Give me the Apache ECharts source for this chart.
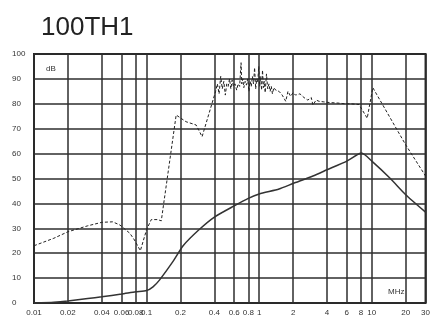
<!DOCTYPE html>
<html>
<head>
<meta charset="utf-8">
<script src="https://cdn.jsdelivr.net/npm/echarts@6/dist/echarts.min.js"></script>
<style>
  html, body { margin: 0; padding: 0; background: #fff; }
  #chart { width: 433px; height: 318px; }
</style>
</head>
<body>
<div id="chart"></div>
<script>
// frequency ticks (MHz) shown on the log axis
const freqTicks = [0.01, 0.02, 0.04, 0.06, 0.08, 0.1, 0.2, 0.4, 0.6, 0.8, 1, 2, 4, 6, 8, 10, 20, 30]

// dashed curve
const dashFreq = [
  0.01, 0.015, 0.02, 0.03, 0.04, 0.05, 0.058, 0.071, 0.078, 0.088, 0.1, 0.11, 0.125, 0.135,
  0.183, 0.224, 0.275, 0.311, 0.41,
  0.425, 0.44, 0.455, 0.47, 0.485, 0.5, 0.515, 0.53, 0.545, 0.56, 0.575, 0.59, 0.61, 0.63,
  0.65, 0.67, 0.69, 0.70, 0.715, 0.73, 0.75, 0.77, 0.79, 0.81, 0.83, 0.85, 0.87, 0.89, 0.91,
  0.93, 0.95, 0.97, 0.99, 1.01, 1.03, 1.05, 1.07, 1.09, 1.11, 1.13, 1.16, 1.19, 1.22, 1.25,
  1.28, 1.31, 1.35, 1.4, 1.45, 1.5, 1.6, 1.72, 1.8, 1.9, 2.0, 2.1, 2.3, 2.5, 2.7, 2.9, 3.0,
  3.2, 3.4, 3.7, 4.2, 5.0, 5.8, 6.5, 7.7, 9.1, 10.2, 20, 30
]
const dashDb = [
  23, 26, 28.6, 31, 32.4, 32.6, 31.3, 28, 25.3, 21, 29.5, 33.5, 33.5, 33,
  75.5, 72.8, 71.5, 66.8, 85,
  88, 84, 91, 86, 89, 83.5, 88, 87, 90, 86, 89.5, 87, 88, 85.5,
  88, 87, 96.5, 88, 90, 86.5, 89, 87.5, 90, 85, 89, 87, 91, 88, 94.5,
  86, 90, 88.5, 95, 87, 91, 85.5, 93.5, 86.5, 89, 84.5, 92, 86, 88, 85,
  87, 84, 86.5, 85.5, 86, 85, 83.5, 81, 85, 83, 84.5, 83.5, 84, 82.5, 81.5, 82.5, 79.5,
  81.5, 81, 80.8, 80.5, 80.3, 80, 80, 79.7, 74.2, 86.5, 63.5, 51
]

// solid curve
const solidFreq = [
  0.01, 0.015, 0.02, 0.03, 0.04, 0.06, 0.08, 0.1, 0.114, 0.13, 0.171, 0.211, 0.29, 0.4,
  0.6, 0.8, 1, 1.5, 2, 3, 4, 6, 8.1, 10, 14.6, 20, 30
]
const solidDb = [
  0, 0.3, 0.8, 1.8, 2.5, 3.6, 4.5, 5, 6.5, 9.2, 16.6, 23, 29.3, 34.5,
  39, 42, 43.8, 45.8, 48, 51, 53.5, 57, 60.2, 57, 50, 43.5, 36.5
]

const yTicks = [0, 10, 20, 30, 40, 50, 60, 70, 80, 90, 100]

const toPairs = (fs, vs) => fs.map((f, i) => [Math.log10(f), vs[i]])
const logTicks = freqTicks.map(f => Math.log10(f))
const labelFont = "'Liberation Sans Narrow', 'Liberation Sans', Arial, sans-serif"

const chart = echarts.init(document.getElementById("chart"))
chart.setOption({
  backgroundColor: "#fff",
  animation: false,
  title: {
    text: "100TH1",
    left: 41,
    top: 15,
    padding: 0,
    textStyle: {
      fontFamily: "'Liberation Sans', Arial, sans-serif",
      fontSize: 26,
      fontWeight: "normal",
      color: "#222"
    }
  },
  grid: {
    left: 34,
    right: 6,
    top: 54,
    bottom: 15,
    show: true,
    borderColor: "#222",
    borderWidth: 2,
    containLabel: false
  },
  xAxis: {
    type: "value",
    min: Math.log10(0.01),
    max: Math.log10(30),
    axisLine: { show: false },
    axisTick: { show: false, customValues: logTicks },
    splitLine: { show: true, lineStyle: { color: "#2e2e2e", width: 1.5 } },
    axisLabel: {
      customValues: logTicks,
      margin: 6,
      fontSize: 8,
      fontFamily: labelFont,
      color: "#333",
      hideOverlap: false,
      formatter: function (v) {
        const f = freqTicks.find(t => Math.abs(Math.log10(t) - v) < 1e-6)
        return f === undefined ? "" : String(f)
      }
    }
  },
  yAxis: {
    type: "value",
    min: 0,
    max: 100,
    interval: 10,
    axisLine: { show: false },
    axisTick: { show: false },
    splitLine: { show: true, lineStyle: { color: "#2e2e2e", width: 1.5 } },
    axisLabel: {
      margin: 22,
      align: "left",
      fontSize: 8,
      fontFamily: labelFont,
      color: "#333",
      formatter: function (v) {
        return yTicks.includes(v) ? String(v) : ""
      }
    }
  },
  graphic: [
    {
      type: "text",
      left: 46,
      top: 65,
      style: { text: "dB", fontSize: 8, fontFamily: labelFont, fill: "#333" }
    },
    {
      type: "text",
      left: 388,
      top: 288,
      style: { text: "MHz", fontSize: 8, fontFamily: labelFont, fill: "#333" }
    }
  ],
  series: [
    {
      type: "line",
      data: toPairs(dashFreq, dashDb),
      symbol: "none",
      lineStyle: { color: "#222", width: 1, type: [3, 2] }
    },
    {
      type: "line",
      data: toPairs(solidFreq, solidDb),
      symbol: "none",
      smooth: 0.2,
      lineStyle: { color: "#333", width: 1.5 }
    }
  ]
})
</script>
</body>
</html>
